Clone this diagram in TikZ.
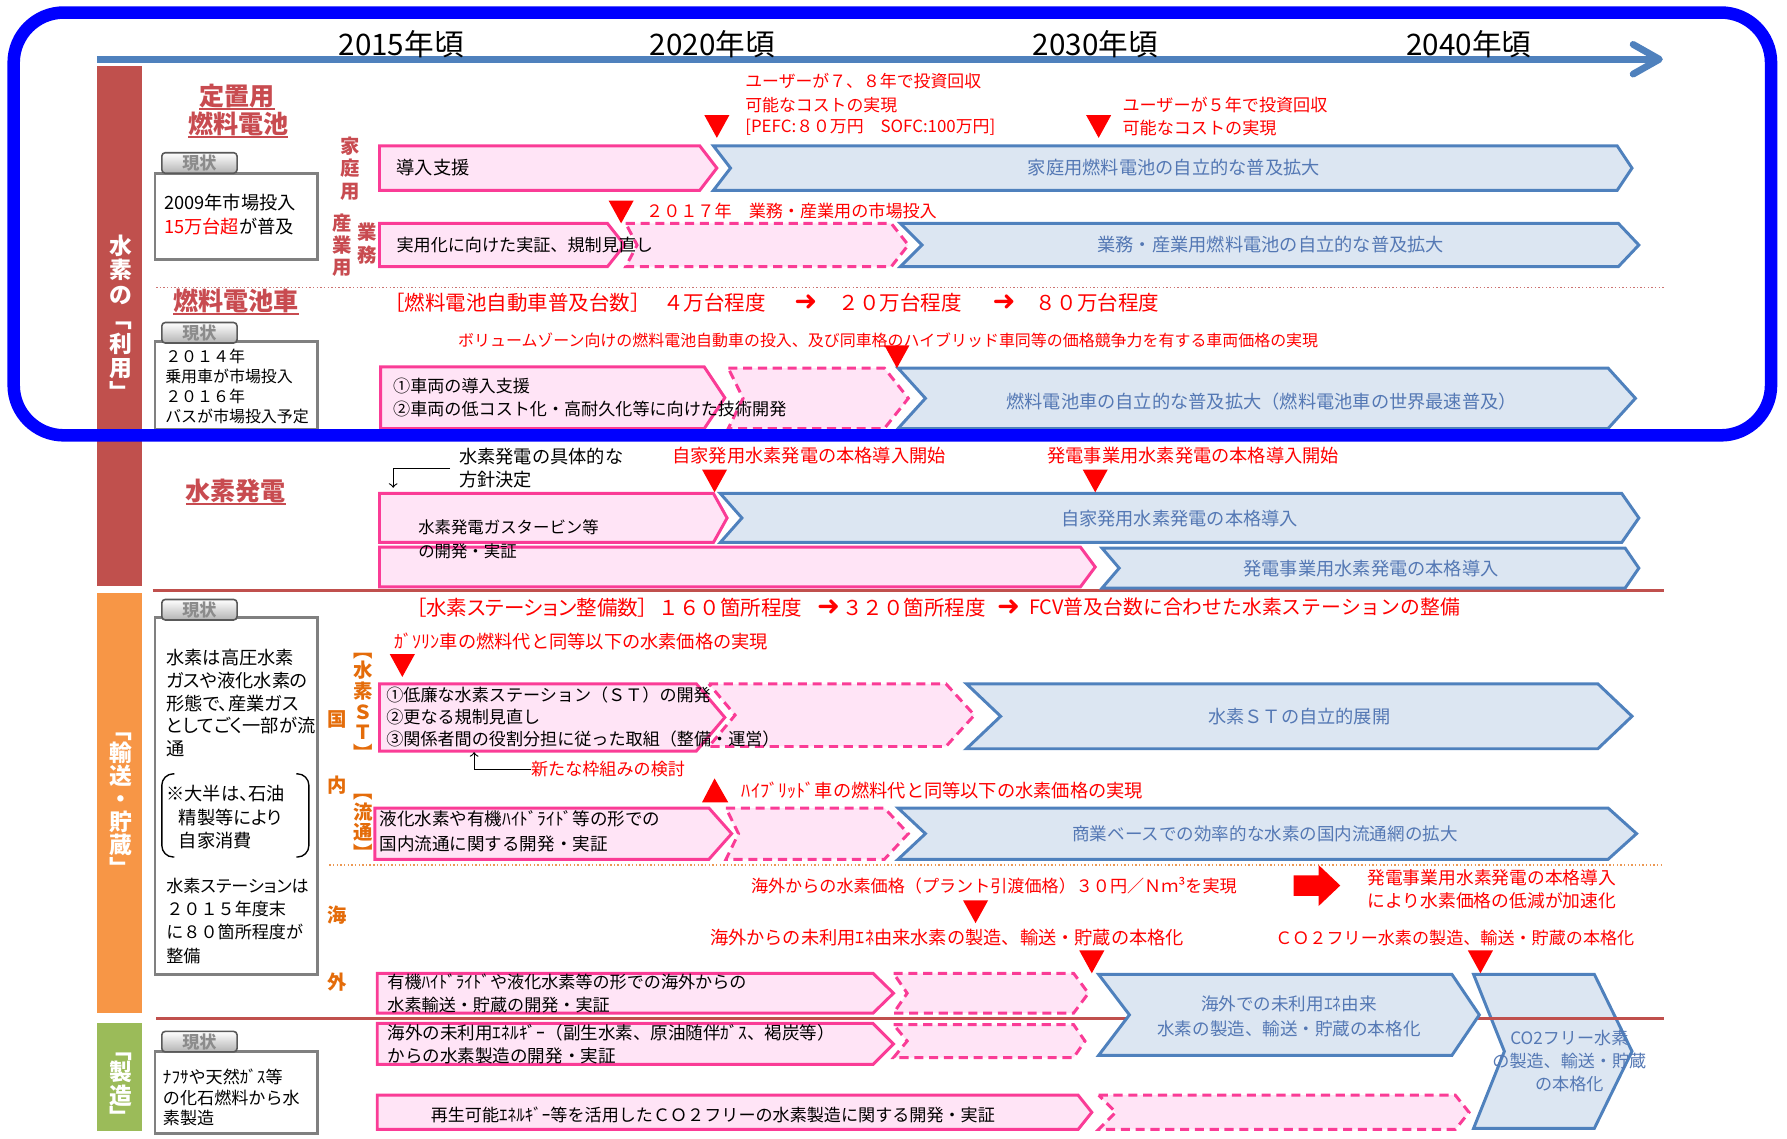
\documentclass[tikz,border=0pt]{standalone}
\usepackage{fontspec}
\setmainfont{Noto Sans CJK JP}
\newfontfamily\propjp{Noto Sans CJK JP}[RawFeature=+palt]
\newfontfamily\arrowfont{DejaVu Sans}
\definecolor{frameblue}{RGB}{0,0,255}
\definecolor{axisblue}{RGB}{79,129,189}
\definecolor{usered}{RGB}{192,80,77}
\definecolor{moveorange}{RGB}{247,150,70}
\definecolor{makegreen}{RGB}{155,187,89}
\definecolor{titlered}{RGB}{200,75,80}
\definecolor{routeorange}{RGB}{228,108,10}
\definecolor{bandpink}{RGB}{250,60,150}
\definecolor{fillpink}{RGB}{255,228,246}
\definecolor{bandblue}{RGB}{79,129,189}
\definecolor{fillblue}{RGB}{220,230,242}
\definecolor{bandtext}{RGB}{84,120,180}
\definecolor{boxgray}{RGB}{128,128,128}
%band: style, left x, tip x, top y, bottom y, tip depth, notch depth
\newcommand{\roadband}[7]{%
	\draw[#1] (#2,#4) -- ({#3-#6},#4) -- (#3,{(#4+#5)/2}) -- ({#3-#6},#5) -- (#2,#5) -- ({#2+#7},{(#4+#5)/2}) -- cycle;}
\begin{document}
\begin{tikzpicture}[x=0.5pt, y=-0.5pt,
	every node/.style={inner sep=0pt, outer sep=0pt},
	timeline/.style={draw=axisblue, line width=3pt},
	year/.style={font=\fontsize{13}{15}\selectfont},
	bartext/.style={font=\fontsize{10}{10.7}\selectfont\bfseries, text=white, align=center},
	sectitle/.style={font=\fontsize{11}{13}\selectfont\bfseries, text=titlered},
	titleline/.style={draw=titlered, line width=0.8pt},
	sidelbl/.style={font=\fontsize{8.5}{10}\selectfont\bfseries, text=titlered, align=center},
	routelbl/.style={font=\fontsize{8.5}{9}\selectfont\bfseries, text=routeorange, align=center},
	statustab/.style={draw=black!65, line width=0.7pt, rounded corners=1.5pt, top color=white, bottom color=black!30, minimum width=33pt, minimum height=9pt, font=\fontsize{7.5}{9}\selectfont\bfseries, text=black!45},
	statusbox/.style={draw=boxgray, line width=1.3pt},
	statustext/.style={font=\fontsize{8}{10.5}\selectfont, anchor=west, align=left},
	pinkbox/.style={draw=bandpink, fill=fillpink, line width=1.3pt},
	pinkdash/.style={pinkbox, dash pattern=on 4pt off 2.5pt},
	bluebox/.style={draw=bandblue, fill=fillblue, line width=1.3pt},
	boxtext/.style={font=\fontsize{7.5}{10}\selectfont, anchor=west, align=left},
	bluetext/.style={font=\fontsize{8}{11}\selectfont, text=bandtext, align=center},
	note/.style={font=\fontsize{7.5}{10}\selectfont, text=red, anchor=west},
	headline/.style={font=\fontsize{9}{11}\selectfont, text=red, anchor=west},
	headarrow/.style={font=\arrowfont\fontsize{12}{13}\selectfont, text=red},
	elbow/.style={->, line width=0.5pt},
	useframe/.style={draw=frameblue, line width=5.5pt, rounded corners=22pt}]
	\useasboundingbox (0,0) rectangle (1568,999);
	%Timeline
	\draw[timeline] (85,52) -- (1450,52);
	\draw[timeline, line cap=round, line join=round] (1433,39) -- (1456,52) -- (1433,65);
	\node[year] (y2015) at (352,39) {2015年頃};
	\node[year] (y2020) at (625,39) {2020年頃};
	\node[year] (y2030) at (961,39) {2030年頃};
	\node[year] (y2040) at (1289,39) {2040年頃};
	%Category bars
	\fill[usered] (85,58) rectangle (125,514);
	\fill[moveorange] (85,520) rectangle (125,889);
	\fill[makegreen] (85,898) rectangle (125,992);
	\node[bartext] (baruse) at (106,279) {水\\素\\の\\﹁\\利\\用\\﹂};
	\node[bartext, font=\fontsize{10}{10.1}\selectfont\bfseries] (barmove) at (106,706) {﹁\\輸\\送\\・\\貯\\蔵\\﹂};
	\node[bartext, font=\fontsize{10}{9.5}\selectfont\bfseries] (barmake) at (106,956) {﹁\\製\\造\\﹂};
	%Separators
	\draw[densely dotted, usered!80, line width=0.6pt] (137,252) -- (1460,252);
	\draw[usered, line width=1.3pt] (134,518) -- (1460,518);
	\draw[densely dotted, routeorange!70, line width=0.6pt] (289,759) -- (1460,759);
	%Section titles
	\node[sectitle] (tfix1) at (208,84) {定置用};
	\node[sectitle] (tfix2) at (209,109) {燃料電池};
	\node[sectitle] (tfcv) at (207,264) {燃料電池車};
	\node[sectitle] (tpow) at (207,431) {水素発電};
	\foreach \t in {tfix1,tfix2,tfcv,tpow}
		\draw[titleline] ([yshift=-0.5pt]\t.south west) -- ([yshift=-0.5pt]\t.south east);
	%Side labels
	\node[sidelbl] (lhome) at (307,148) {家\\庭\\用};
	\node[sidelbl, font=\fontsize{8.5}{9.75}\selectfont\bfseries] (lind) at (300,215) {産\\業\\用};
	\node[sidelbl] (lbiz) at (322,214) {業\\務};
	\node[routelbl] (ldom1) at (296,631) {国};
	\node[routelbl] (ldom2) at (296,689) {内};
	\node[routelbl] (lsea1) at (296,803) {海};
	\node[routelbl] (lsea2) at (296,862) {外};
	\node[routelbl] (lst) at (319,620) {︻\\水\\素\\Ｓ\\Ｔ\\︼};
	\node[routelbl] (ldist) at (319,726) {︻\\流\\通\\︼};
	%Status boxes
	\foreach \ya/\yb in {152/228, 300/377, 542/855, 923/995}
		\draw[statusbox] (136,\ya) rectangle (279,\yb);
	\foreach \ty [count=\i] in {143,292,535,914}
		\node[statustab] (tab\i) at (175,\ty) {現状};
	\node[statustext] (st1) at (144,188) {2009年市場投入\\{\color{red}15万台超}が普及};
	\node[statustext, font=\fontsize{7}{8.85}\selectfont] (st2) at (145,339) {２０１４年\\乗用車が市場投入\\２０１６年\\バスが市場投入予定};
	\node[statustext, font=\propjp\fontsize{8}{10}\selectfont] (st3) at (146,617) {水素は高圧水素\\ガスや液化水素の\\形態で、産業ガス\\としてごく一部が流\\通};
	\node[statustext, font=\propjp\fontsize{8}{10.25}\selectfont] (st4) at (146,717) {※大半は、石油\\\hspace*{5.5pt}精製等により\\\hspace*{5.5pt}自家消費};
	\draw[line width=0.6pt, rounded corners=5pt] (153,679) -- (142,679) -- (142,752) -- (153,752);
	\draw[line width=0.6pt, rounded corners=5pt] (260,679) -- (271,679) -- (271,752) -- (260,752);
	\node[statustext, font=\fontsize{7.5}{10.15}\selectfont] (st5) at (146,808) {{\propjp 水素ステーションは}\\２０１５年度末\\に８０箇所程度が\\整備};
	\node[statustext, font=\fontsize{7.5}{9}\selectfont] (st6) at (143,963) {ﾅﾌｻや天然ｶﾞｽ等\\の化石燃料から水\\素製造};
	%Bands
		%home use
		\roadband{pinkbox}{333}{629}{128}{167}{15}{0}
		\roadband{bluebox}{626}{1432}{128}{167}{13}{15}
		%industry use
		\roadband{pinkdash}{549}{797}{196}{234}{15}{10}
		\roadband{pinkbox}{333}{548}{196}{234}{15}{0}
		\roadband{bluebox}{790}{1438}{196}{234}{18}{19}
		%fuel cell vehicles
		\roadband{pinkdash}{639}{797}{323}{376}{21}{13}
		\roadband{pinkbox}{334}{636}{322}{376}{18}{0}
		\roadband{bluebox}{788}{1435}{323}{376}{24}{24}
		%power generation
		\roadband{pinkbox}{333}{638}{433}{476}{12}{0}
		\roadband{bluebox}{632}{1438}{433}{476}{15}{19}
		\roadband{pinkbox}{333}{961}{480}{515}{13}{0}
		\roadband{bluebox}{967}{1438}{481}{516}{12}{15}
		%stations
		\roadband{pinkdash}{622}{855}{600}{655}{25}{23}
		\roadband{pinkbox}{333}{636}{600}{659}{25}{0}
		\roadband{bluebox}{848}{1432}{600}{657}{30}{30}
		%domestic distribution
		\roadband{pinkdash}{637}{797}{709}{754}{21}{11}
		\roadband{pinkbox}{329}{642}{709}{754}{20}{0}
		\roadband{bluebox}{788}{1436}{709}{754}{25}{24}
		%overseas and production
		\roadband{bluebox}{1293}{1432}{855}{990}{33}{27}
		\draw[usered, line width=1.3pt] (137,894) -- (1460,894);
		\roadband{pinkdash}{784}{955}{854}{889}{13}{12}
		\roadband{pinkbox}{331}{784}{854}{889}{18}{0}
		\roadband{bluebox}{964}{1298}{855}{926}{24}{27}
		\roadband{pinkdash}{784}{952}{899}{928}{10}{12}
		\roadband{pinkbox}{331}{784}{898}{934}{18}{0}
		\roadband{pinkdash}{964}{1289}{961}{991}{12}{15}
		\roadband{pinkbox}{331}{958}{961}{991}{12}{0}
	%Band texts
	\node[boxtext, font=\fontsize{8}{10}\selectfont] (bhome) at (348,147) {導入支援};
	\node[bluetext] (bhomeb) at (1030,147) {家庭用燃料電池の自立的な普及拡大};
	\node[boxtext] (bind) at (348,215) {実用化に向けた実証、規制見直し};
	\node[bluetext] (bindb) at (1115,215) {業務・産業用燃料電池の自立的な普及拡大};
	\node[boxtext] (bfcv) at (345,349) {①車両の導入支援\\②車両の低コスト化・高耐久化等に向けた技術開発};
	\node[bluetext] (bfcvb) at (1107,352) {燃料電池車の自立的な普及拡大（燃料電池車の世界最速普及）};
	\node[boxtext, font=\fontsize{7.2}{10.5}\selectfont] (bpow) at (367,473) {水素発電ガスタービン等\\の開発・実証};
	\node[bluetext] (bpowb1) at (1035,455) {自家発用水素発電の本格導入};
	\node[bluetext] (bpowb2) at (1203,499) {発電事業用水素発電の本格導入};
	\node[boxtext, font=\fontsize{7.5}{9.75}\selectfont] (bst) at (339,629) {①低廉な水素ステーション（ＳＴ）の開発\\②更なる規制見直し\\③関係者間の役割分担に従った取組（整備・運営）};
	\node[bluetext] (bstb) at (1140,629) {水素ＳＴの自立的展開};
	\node[boxtext, font=\fontsize{7.7}{11}\selectfont] (bdist) at (333,729) {液化水素や有機ﾊｲﾄﾞﾗｲﾄﾞ等の形での\\国内流通に関する開発・実証};
	\node[bluetext, font=\fontsize{7.7}{11}\selectfont] (bdistb) at (1110,732) {商業ベースでの効率的な水素の国内流通網の拡大};
	\node[boxtext] (bsea1) at (340,872) {有機ﾊｲﾄﾞﾗｲﾄﾞや液化水素等の形での海外からの\\水素輸送・貯蔵の開発・実証};
	\node[boxtext, font=\fontsize{7.7}{10}\selectfont] (bsea2) at (340,916) {海外の未利用ｴﾈﾙｷﾞｰ（副生水素、原油随伴ｶﾞｽ、褐炭等）\\からの水素製造の開発・実証};
	\node[boxtext] (bgreen) at (378,978) {再生可能ｴﾈﾙｷﾞｰ等を活用したＣＯ２フリーの水素製造に関する開発・実証};
	\node[bluetext, font=\fontsize{7.7}{11}\selectfont] (bseab) at (1131,892) {海外での未利用ｴﾈ由来\\水素の製造、輸送・貯蔵の本格化};
	\node[bluetext, font=\fontsize{7.5}{10.25}\selectfont] (bco2) at (1377,931) {CO2フリー水素\\の製造、輸送・貯蔵\\の本格化};
	%Milestones
	\node[note, font=\fontsize{7.4}{10}\selectfont] (n78a) at (654,71) {ユーザーが７、８年で投資回収};
	\node[note, font=\fontsize{7.4}{10}\selectfont] (n78b) at (654,92) {可能なコストの実現};
	\node[note, font=\fontsize{7.4}{10}\selectfont] (n78c) at (654,112) {[PEFC:８０万円　SOFC:100万円]};
	\node[note] (n5a) at (985,92) {ユーザーが５年で投資回収};
	\node[note] (n5b) at (985,112) {可能なコストの実現};
	\node[note] (n2017) at (567,185) {２０１７年　業務・産業用の市場投入};
	\node[headline] (hfcv1) at (337,266) {［燃料電池自動車普及台数］};
	\node[headline] (hfcv2) at (582,266) {４万台程度};
	\node[headarrow] (hfcva1) at (707,266) {➜};
	\node[headline] (hfcv3) at (736,266) {２０万台程度};
	\node[headarrow] (hfcva2) at (881,266) {➜};
	\node[headline] (hfcv4) at (909,266) {８０万台程度};
	\node[note, font=\fontsize{7}{9}\selectfont] (nvol) at (402,299) {ボリュームゾーン向けの燃料電池自動車の投入、及び同車格のハイブリッド車同等の価格競争力を有する車両価格の実現};
	\node[boxtext, font=\fontsize{8}{10}\selectfont] (npol) at (403,411) {水素発電の具体的な\\方針決定};
	\coordinate (npolto) at (345,428);
	\draw[elbow] ([xshift=-4pt]npol.west) -| (npolto);
	\node[note, font=\fontsize{8}{10}\selectfont] (nown) at (590,400) {自家発用水素発電の本格導入開始};
	\node[note, font=\fontsize{8}{10}\selectfont] (nutil) at (919,400) {発電事業用水素発電の本格導入開始};
	\node[headline, font=\propjp\fontsize{9}{11}\selectfont] (hst1) at (365,533) {［水素ステーション整備数］};
	\node[headline] (hst2) at (578,533) {１６０箇所程度};
	\node[headarrow] (hsta1) at (727,533) {➜};
	\node[headline] (hst3) at (739,533) {３２０箇所程度};
	\node[headarrow] (hsta2) at (885,533) {➜};
	\node[headline, font=\fontsize{8.7}{11}\selectfont] (hst4) at (903,533) {FCV普及台数に合わせた水素ステーションの整備};
	\node[note, font=\fontsize{8}{10}\selectfont] (ngas) at (346,563) {ｶﾞｿﾘﾝ車の燃料代と同等以下の水素価格の実現};
	\node[note] (nframe) at (466,675) {新たな枠組みの検討};
	\coordinate (nframeto) at (416,660);
	\draw[elbow] (nframe.west) -| (nframeto);
	\node[note, font=\fontsize{8}{10}\selectfont] (nhyb) at (651,694) {ﾊｲﾌﾞﾘｯﾄﾞ車の燃料代と同等以下の水素価格の実現};
	\node[note] (nimp) at (659,777) {海外からの水素価格（プラント引渡価格）３０円／Ｎｍ³を実現};
	\node[note, anchor=center, align=center, font=\fontsize{7.8}{10}\selectfont] (nacc) at (1309,780) {発電事業用水素発電の本格導入\\により水素価格の低減が加速化};
	\node[note, font=\fontsize{8}{10}\selectfont] (nunu) at (623,823) {海外からの未利用ｴﾈ由来水素の製造、輸送・貯蔵の本格化};
	\node[note] (nco2) at (1119,823) {ＣＯ２フリー水素の製造、輸送・貯蔵の本格化};
	%Triangles
	\foreach \tx/\ty in {629/121, 964/121, 545/196, 787/323, 627/432, 961/432, 353/594, 856/810, 958/854, 1299/854}
		\fill[red] ({\tx-11},{\ty-20}) -- ({\tx+11},{\ty-20}) -- (\tx,\ty) -- cycle;
	\fill[red] (616,704) -- (639,704) -- (627,683) -- cycle;
	\fill[red] (1135,768) -- (1157,768) -- (1157,759) -- (1176,777) -- (1157,795) -- (1157,786) -- (1135,786) -- cycle;
	%Frame
	\draw[useframe] (12,11) rectangle (1554,382);
\end{tikzpicture}
\end{document}
